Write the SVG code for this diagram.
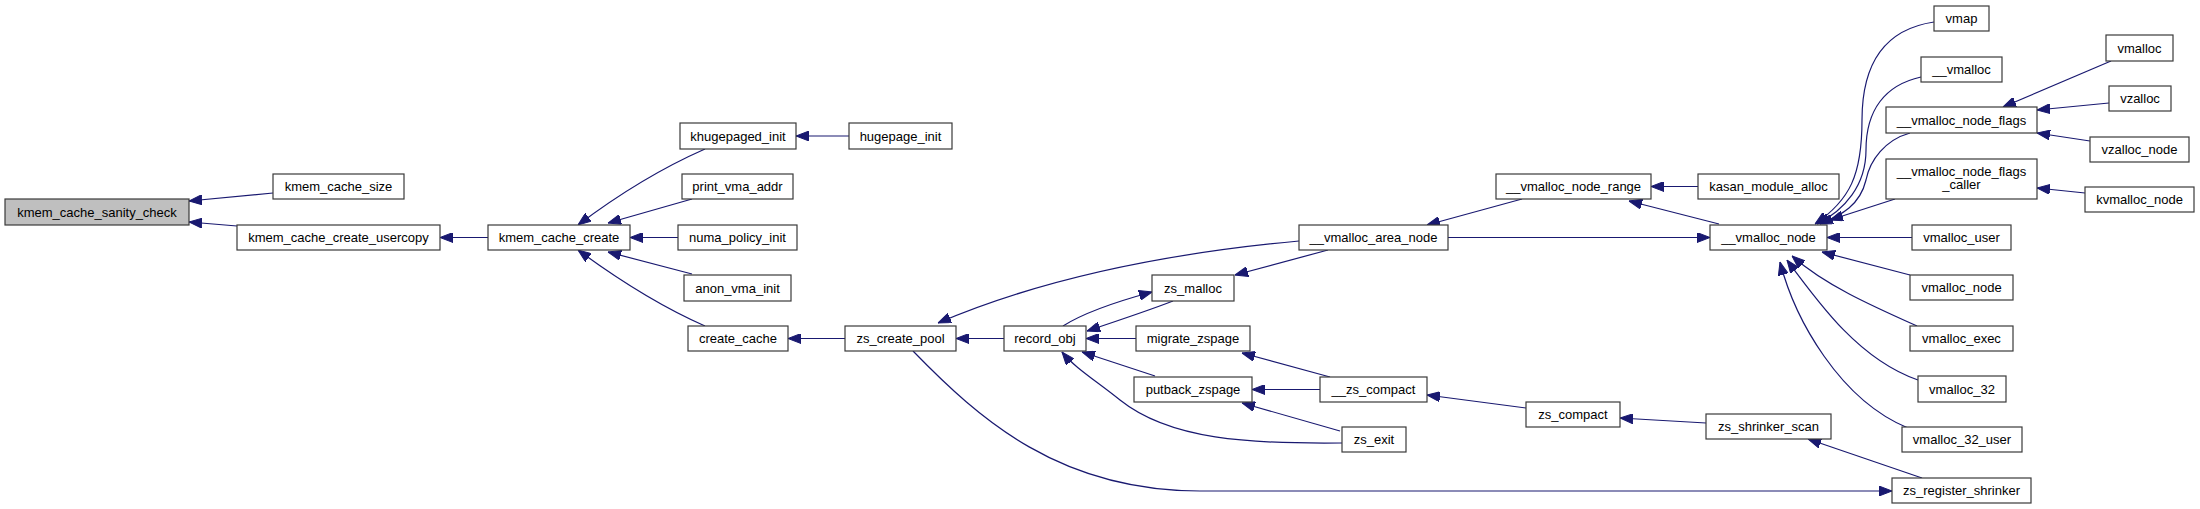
<svg xmlns="http://www.w3.org/2000/svg" width="2200" height="509" viewBox="0 0 2200 509">
<defs>
<style>
.n rect{fill:#ffffff;stroke:#3a3a3a;stroke-width:1.2}
.n.root rect{fill:#bfbfbf}
.n text{font-family:"Liberation Sans",Arial,sans-serif;font-size:13px;fill:#000;text-anchor:middle}
.e path{fill:none;stroke:#191970;stroke-width:1.2;marker-end:url(#ah)}
</style>
<marker id="ah" viewBox="0 0 13 10" refX="13" refY="5" markerWidth="13" markerHeight="10" markerUnits="userSpaceOnUse" orient="auto">
<path d="M0,0 L13,5 L0,10 z" fill="#191970" stroke="#191970" stroke-width="1"/>
</marker>
</defs>
<rect width="2200" height="509" fill="#ffffff"/>
<g id="edges" class="e">
<path d="M273,193 L189,201"/>
<path d="M237,226 L189,222"/>
<path d="M488,237.5 L440,237.5"/>
<path d="M705,149 C680,160 635,182 578,225"/>
<path d="M692,199 L608,223"/>
<path d="M678,237.5 L630,237.5"/>
<path d="M692,274 L608,252"/>
<path d="M705,326 C680,315 635,292 578,250"/>
<path d="M849,136 L796,136"/>
<path d="M845,338.5 L788,338.5"/>
<path d="M1004,338.5 L956,338.5"/>
<path d="M1299,241 C1180,252 1050,275 938,323"/>
<path d="M913,351 C980,420 1060,491 1200,491 L1892,491"/>
<path d="M1173,301 C1150,310 1120,320 1087,331"/>
<path d="M1063,326 C1085,312 1115,302 1152,292"/>
<path d="M1136,338.5 L1086,338.5"/>
<path d="M1155,376 L1082,352"/>
<path d="M1342,443 C1250,444 1170,440 1120,400 C1095,380 1075,368 1062,352"/>
<path d="M1328,250 L1235,275"/>
<path d="M1522,199 L1427,225"/>
<path d="M1448,237.5 L1710,237.5"/>
<path d="M1698,186.5 L1651,186.5"/>
<path d="M1719,224 L1629,201"/>
<path d="M1330,377 L1242,353"/>
<path d="M1320,389.5 L1252,389.5"/>
<path d="M1340,431 L1242,403"/>
<path d="M1526,408 L1427,395"/>
<path d="M1706,423 L1620,418"/>
<path d="M1922,478 L1808,439"/>
<path d="M1934,22 C1880,30 1862,70 1862,120 C1862,175 1850,200 1815,224"/>
<path d="M1921,77 C1885,85 1866,110 1866,150 C1866,185 1845,210 1817,224"/>
<path d="M1910,133 C1885,140 1870,160 1866,180 C1860,205 1842,215 1820,224"/>
<path d="M1895,199 L1830,220"/>
<path d="M1912,237.5 L1827,237.5"/>
<path d="M1910,275 L1822,252"/>
<path d="M1917,326 C1870,305 1825,285 1792,256"/>
<path d="M1918,380 C1860,360 1820,305 1787,260"/>
<path d="M1908,428 C1840,400 1795,320 1780,262"/>
<path d="M2111,61 L2003,107"/>
<path d="M2109,103 L2037,110"/>
<path d="M2090,141 L2037,133"/>
<path d="M2085,193 L2037,188"/>
</g>
<g id="kmem_cache_sanity_check" class="n root"><rect x="5" y="199" width="184" height="26"/><text x="97" y="216.5">kmem_cache_sanity_check</text></g>
<g id="kmem_cache_size" class="n"><rect x="273" y="174" width="131" height="25"/><text x="338.5" y="191">kmem_cache_size</text></g>
<g id="kmem_cache_create_usercopy" class="n"><rect x="237" y="225" width="203" height="25"/><text x="338.5" y="242">kmem_cache_create_usercopy</text></g>
<g id="kmem_cache_create" class="n"><rect x="488" y="225" width="142" height="25"/><text x="559" y="242">kmem_cache_create</text></g>
<g id="khugepaged_init" class="n"><rect x="680" y="123" width="116" height="26"/><text x="738" y="140.5">khugepaged_init</text></g>
<g id="hugepage_init" class="n"><rect x="849" y="123" width="103" height="26"/><text x="900.5" y="140.5">hugepage_init</text></g>
<g id="print_vma_addr" class="n"><rect x="682" y="174" width="111" height="25"/><text x="737.5" y="191">print_vma_addr</text></g>
<g id="numa_policy_init" class="n"><rect x="678" y="225" width="119" height="25"/><text x="737.5" y="242">numa_policy_init</text></g>
<g id="anon_vma_init" class="n"><rect x="684" y="275" width="107" height="26"/><text x="737.5" y="292.5">anon_vma_init</text></g>
<g id="create_cache" class="n"><rect x="688" y="326" width="100" height="25"/><text x="738" y="343">create_cache</text></g>
<g id="zs_create_pool" class="n"><rect x="845" y="326" width="111" height="25"/><text x="900.5" y="343">zs_create_pool</text></g>
<g id="record_obj" class="n"><rect x="1004" y="326" width="82" height="25"/><text x="1045" y="343">record_obj</text></g>
<g id="zs_malloc" class="n"><rect x="1152" y="275" width="82" height="26"/><text x="1193" y="292.5">zs_malloc</text></g>
<g id="migrate_zspage" class="n"><rect x="1136" y="326" width="114" height="25"/><text x="1193" y="343">migrate_zspage</text></g>
<g id="putback_zspage" class="n"><rect x="1134" y="377" width="118" height="25"/><text x="1193" y="394">putback_zspage</text></g>
<g id="zs_exit" class="n"><rect x="1342" y="427" width="64" height="25"/><text x="1374" y="444">zs_exit</text></g>
<g id="__zs_compact" class="n"><rect x="1320" y="377" width="107" height="25"/><text x="1373.5" y="394">__zs_compact</text></g>
<g id="zs_compact" class="n"><rect x="1526" y="402" width="94" height="25"/><text x="1573" y="419">zs_compact</text></g>
<g id="zs_shrinker_scan" class="n"><rect x="1706" y="414" width="125" height="25"/><text x="1768.5" y="431">zs_shrinker_scan</text></g>
<g id="zs_register_shrinker" class="n"><rect x="1892" y="478" width="139" height="25"/><text x="1961.5" y="495">zs_register_shrinker</text></g>
<g id="__vmalloc_area_node" class="n"><rect x="1299" y="225" width="149" height="25"/><text x="1373.5" y="242">__vmalloc_area_node</text></g>
<g id="__vmalloc_node_range" class="n"><rect x="1496" y="174" width="155" height="25"/><text x="1573.5" y="191">__vmalloc_node_range</text></g>
<g id="kasan_module_alloc" class="n"><rect x="1698" y="174" width="141" height="25"/><text x="1768.5" y="191">kasan_module_alloc</text></g>
<g id="__vmalloc_node" class="n"><rect x="1710" y="225" width="117" height="25"/><text x="1768.5" y="242">__vmalloc_node</text></g>
<g id="vmap" class="n"><rect x="1934" y="6" width="55" height="25"/><text x="1961.5" y="23">vmap</text></g>
<g id="__vmalloc" class="n"><rect x="1921" y="57" width="81" height="25"/><text x="1961.5" y="74">__vmalloc</text></g>
<g id="__vmalloc_node_flags" class="n"><rect x="1886" y="107" width="151" height="26"/><text x="1961.5" y="124.5">__vmalloc_node_flags</text></g>
<g id="__vmalloc_node_flags_caller" class="n"><rect x="1886" y="159" width="151" height="40"/><text x="1961.5" y="175.5">__vmalloc_node_flags</text><text x="1961.5" y="189">_caller</text></g>
<g id="vmalloc_user" class="n"><rect x="1912" y="225" width="99" height="25"/><text x="1961.5" y="242">vmalloc_user</text></g>
<g id="vmalloc_node" class="n"><rect x="1910" y="275" width="103" height="25"/><text x="1961.5" y="292">vmalloc_node</text></g>
<g id="vmalloc_exec" class="n"><rect x="1910" y="326" width="103" height="25"/><text x="1961.5" y="343">vmalloc_exec</text></g>
<g id="vmalloc_32" class="n"><rect x="1918" y="376" width="88" height="26"/><text x="1962" y="393.5">vmalloc_32</text></g>
<g id="vmalloc_32_user" class="n"><rect x="1902" y="427" width="120" height="25"/><text x="1962" y="444">vmalloc_32_user</text></g>
<g id="vmalloc" class="n"><rect x="2106" y="35" width="67" height="26"/><text x="2139.5" y="52.5">vmalloc</text></g>
<g id="vzalloc" class="n"><rect x="2109" y="86" width="62" height="25"/><text x="2140" y="103">vzalloc</text></g>
<g id="vzalloc_node" class="n"><rect x="2090" y="137" width="99" height="25"/><text x="2139.5" y="154">vzalloc_node</text></g>
<g id="kvmalloc_node" class="n"><rect x="2085" y="187" width="109" height="25"/><text x="2139.5" y="204">kvmalloc_node</text></g>
</svg>
